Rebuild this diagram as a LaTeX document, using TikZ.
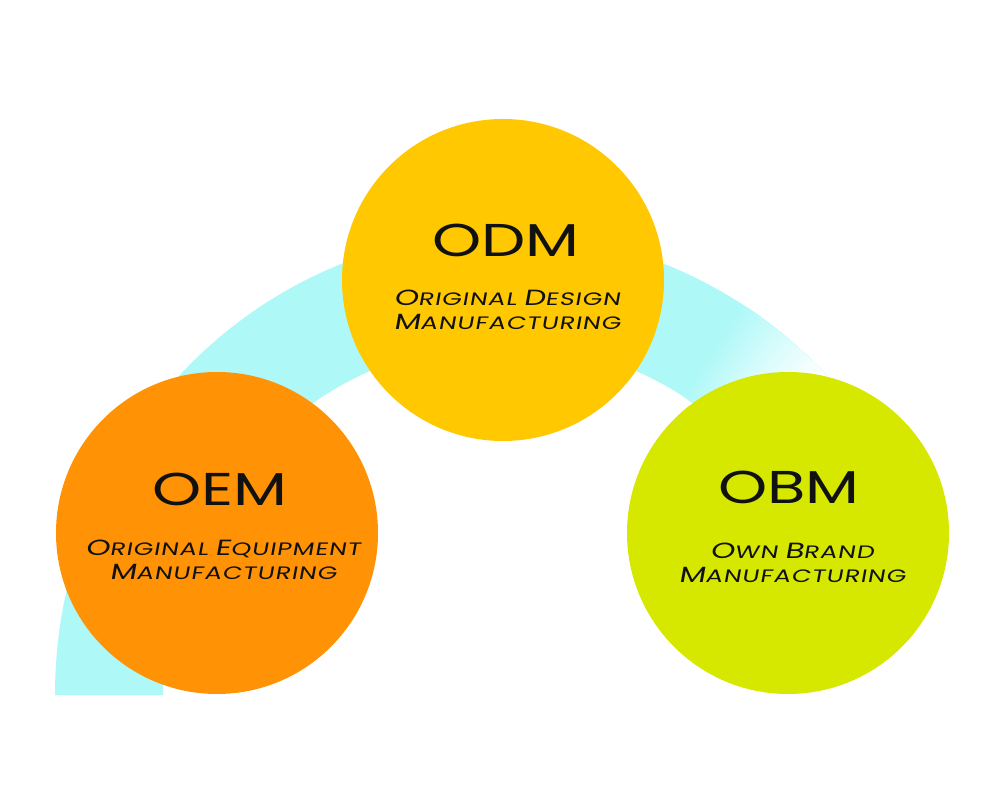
\documentclass[tikz,border=0pt]{standalone}
\usepackage{fontspec}
\usetikzlibrary{calc}
\newfontfamily\titlefont[FakeStretch=1.36]{Poppins}
\newfontfamily\subfont[FakeStretch=1.4,FakeSlant=0.18,LetterSpace=5]{Poppins}
\definecolor{bandcyan}{HTML}{AFF8F8}
\definecolor{oemorange}{HTML}{FF9305}
\definecolor{odmyellow}{HTML}{FFC800}
\definecolor{obmlime}{HTML}{D6E800}
\definecolor{inktext}{HTML}{111111}
\newcommand{\capsc}[2]{{\fontsize{22}{24}\selectfont #1}{\fontsize{18}{24}\selectfont #2}}
\newcommand{\wsp}{\hspace{7pt}}
\newcommand{\bandseg}[3]{%
  \fill[#3] ($(C)+(#1:448pt and 462pt)$) arc[start angle=#1, end angle=#2, x radius=448pt, y radius=462pt]
    -- ($(C)+(#2:340pt and 352pt)$) arc[start angle=#2, end angle=#1, x radius=340pt, y radius=352pt] -- cycle;}
\tikzset{
  bubble/.style={circle, inner sep=0pt, minimum size=322pt},
  titletext/.style={anchor=base, inner sep=0pt, text=inktext, font=\titlefont\fontsize{46}{46}\selectfont},
  subtext/.style={anchor=base, inner sep=0pt, align=center, text=inktext, font=\subfont\fontsize{18}{24}\selectfont}
}
\begin{document}
\begin{tikzpicture}[x=1pt,y=1pt]
\fill[white] (0,0) rectangle (1000,800);
\useasboundingbox (0,0) rectangle (1000,800);
\coordinate (C) at (503,105);
% band
\bandseg{180}{40}{bandcyan}
\foreach \i in {0,...,30}{
  \pgfmathsetmacro\a{58-\i*0.45}
  \pgfmathtruncatemacro\p{100-\i*100/30}
  \bandseg{\a}{40}{bandcyan!\p!white}
}
% circles
\node[bubble, fill=oemorange] (oem) at (217,267) {};
\node[bubble, fill=odmyellow] (odm) at (503,520) {};
\node[bubble, fill=obmlime] (obm) at (788,267) {};
% titles
\node[titletext] (odmt) at (506,543) {ODM};
\node[titletext] (oemt) at (220,294) {OEM};
\node[titletext] (obmt) at (789,296) {OBM};
% subtitles (anchor = baseline of the last line)
\node[subtext] (odms) at (507,470) {\capsc{O}{RIGINAL}\wsp\capsc{D}{ESIGN}\\\capsc{M}{ANUFACTURING}};
\node[subtext] (oems) at (223,220) {\capsc{O}{RIGINAL}\wsp\capsc{E}{QUIPMENT}\\\capsc{M}{ANUFACTURING}};
\node[subtext] (obms) at (792,217) {\capsc{O}{WN}\wsp\capsc{B}{RAND}\\\capsc{M}{ANUFACTURING}};
\end{tikzpicture}
\end{document}
